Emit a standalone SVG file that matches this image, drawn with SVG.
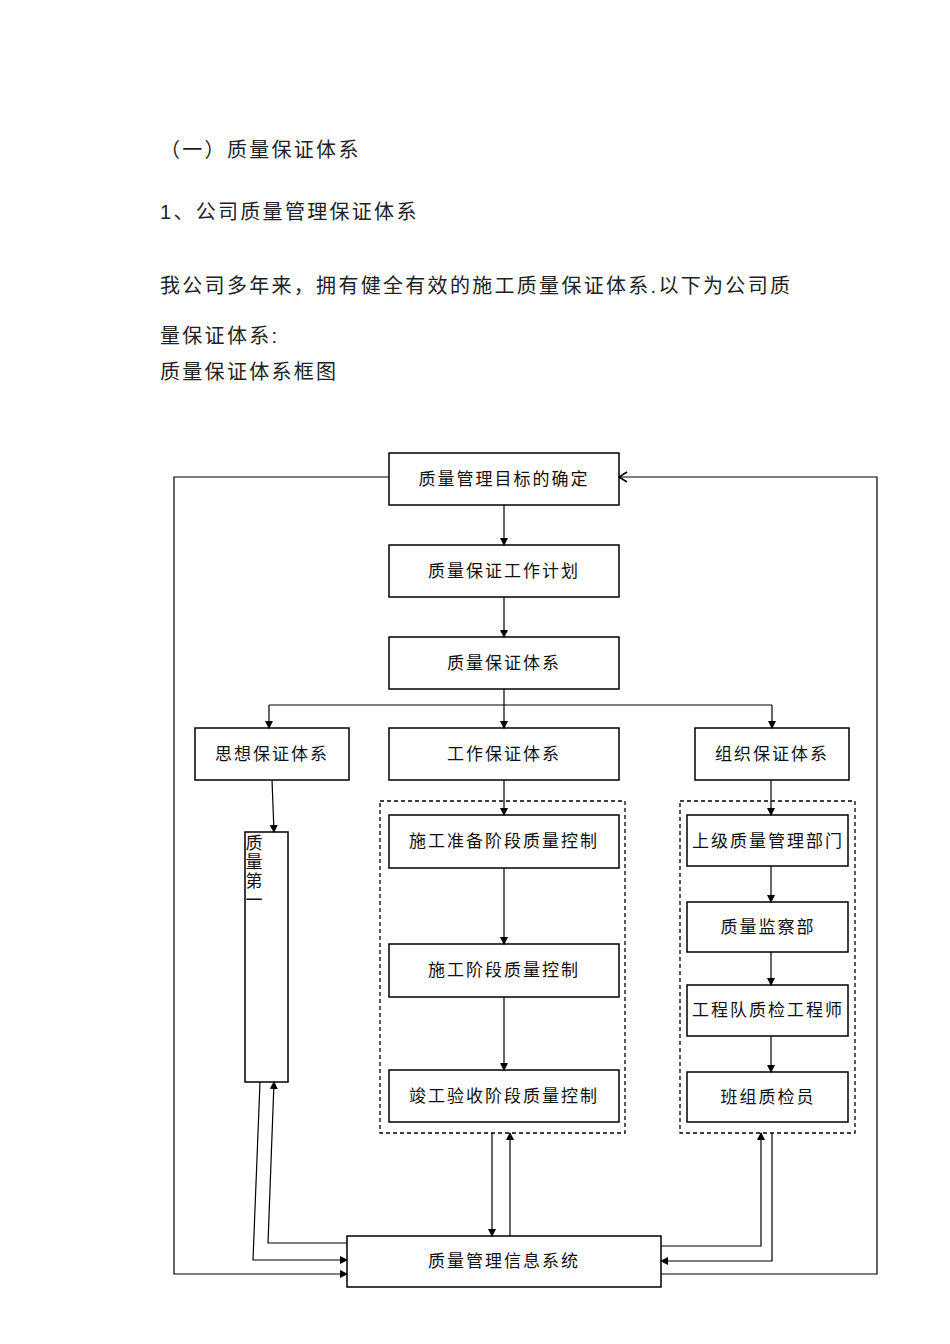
<svg xmlns="http://www.w3.org/2000/svg" width="950" height="1344" viewBox="0 0 950 1344">
<style>
.t{font-family:"Liberation Sans","Noto Sans CJK SC",sans-serif;font-size:20px;fill:#222;letter-spacing:2.3px}
.b{fill:#fff;stroke:#000;stroke-width:1.5}
.d{fill:none;stroke:#000;stroke-width:1.3;stroke-dasharray:4,3}
.l{font-family:"Liberation Sans","Noto Sans CJK SC",sans-serif;font-size:17px;fill:#111;text-anchor:middle;letter-spacing:2px}
.c{fill:none;stroke:#000;stroke-width:1.2}
</style>
<defs>
<marker id="a" markerWidth="8" markerHeight="8" refX="7" refY="4" orient="auto" markerUnits="userSpaceOnUse"><path d="M0,0L8,4L0,8z" fill="#000"/></marker>
<marker id="o" markerWidth="10" markerHeight="12" refX="9" refY="6" orient="auto" markerUnits="userSpaceOnUse"><path d="M1,1L9,6L1,11" fill="none" stroke="#000" stroke-width="1.5"/></marker>
</defs>
<rect width="950" height="1344" fill="#fff"/>
<text class="t" x="160" y="157">（一）质量保证体系</text>
<text class="t" x="160" y="219">1、公司质量管理保证体系</text>
<text class="t" x="160" y="293">我公司多年来，拥有健全有效的施工质量保证体系.以下为公司质</text>
<text class="t" x="160" y="343">量保证体系:</text>
<text class="t" x="160" y="379">质量保证体系框图</text>
<g id="dash"><rect class="d" x="380" y="801" width="245" height="332"/><rect class="d" x="680" y="801" width="175" height="332"/></g>
<g id="n1"><rect class="b" x="389" y="453" width="230" height="52"/><text class="l" x="504" y="485">质量管理目标的确定</text></g>
<g id="n2"><rect class="b" x="389" y="545" width="230" height="52"/><text class="l" x="504" y="577">质量保证工作计划</text></g>
<g id="n3"><rect class="b" x="389" y="637" width="230" height="52"/><text class="l" x="504" y="669">质量保证体系</text></g>
<g id="n4"><rect class="b" x="195" y="728" width="154" height="52"/><text class="l" x="272" y="760">思想保证体系</text></g>
<g id="n5"><rect class="b" x="389" y="728" width="230" height="52"/><text class="l" x="504" y="760">工作保证体系</text></g>
<g id="n6"><rect class="b" x="695" y="728" width="154" height="52"/><text class="l" x="772" y="760">组织保证体系</text></g>
<g id="n7"><rect class="b" x="245" y="832" width="43" height="250"/><text class="l" x="255" y="849" style="font-size:17px">质</text><text class="l" x="255" y="868" style="font-size:17px">量</text><text class="l" x="255" y="887" style="font-size:17px">第</text><text class="l" x="255" y="906" style="font-size:17px">一</text></g>
<g id="n8"><rect class="b" x="389" y="815" width="230" height="53"/><text class="l" x="504" y="847">施工准备阶段质量控制</text></g>
<g id="n9"><rect class="b" x="389" y="944" width="230" height="53"/><text class="l" x="504" y="976">施工阶段质量控制</text></g>
<g id="n10"><rect class="b" x="389" y="1070" width="230" height="52"/><text class="l" x="504" y="1102">竣工验收阶段质量控制</text></g>
<g id="n11"><rect class="b" x="687" y="815" width="161" height="51"/><text class="l" x="768" y="847">上级质量管理部门</text></g>
<g id="n12"><rect class="b" x="687" y="902" width="161" height="50"/><text class="l" x="768" y="933">质量监察部</text></g>
<g id="n13"><rect class="b" x="687" y="985" width="161" height="51"/><text class="l" x="768" y="1016">工程队质检工程师</text></g>
<g id="n14"><rect class="b" x="687" y="1072" width="161" height="50"/><text class="l" x="768" y="1103">班组质检员</text></g>
<g id="n15"><rect class="b" x="347" y="1236" width="314" height="51"/><text class="l" x="504" y="1267">质量管理信息系统</text></g>
<g id="conn" class="c">
<path class="c" d="M504,505V545" marker-end="url(#a)"/>
<path class="c" d="M504,597V637" marker-end="url(#a)"/>
<path class="c" d="M504,689V728" marker-end="url(#a)"/>
<path class="c" d="M269,705H772"/>
<path class="c" d="M269,705V728" marker-end="url(#a)"/>
<path class="c" d="M772,705V728" marker-end="url(#a)"/>
<path class="c" d="M272,780L274,832" marker-end="url(#a)"/>
<path class="c" d="M504,780V815" marker-end="url(#a)"/>
<path class="c" d="M504,868V944" marker-end="url(#a)"/>
<path class="c" d="M504,997V1070" marker-end="url(#a)"/>
<path class="c" d="M771,780V815" marker-end="url(#a)"/>
<path class="c" d="M771,866V902" marker-end="url(#a)"/>
<path class="c" d="M771,952V985" marker-end="url(#a)"/>
<path class="c" d="M771,1036V1072" marker-end="url(#a)"/>
<path class="c" d="M389,477H174V1274H347" marker-end="url(#a)"/>
<path class="c" d="M661,1274H877V477H619" marker-end="url(#o)"/>
<path class="c" d="M347,1243H268L274,1082" marker-end="url(#a)"/>
<path class="c" d="M260,1082L253,1260H347" marker-end="url(#a)"/>
<path class="c" d="M492,1133V1236" marker-end="url(#a)"/>
<path class="c" d="M510,1236V1133" marker-end="url(#a)"/>
<path class="c" d="M661,1246H761V1133" marker-end="url(#a)"/>
<path class="c" d="M772,1133V1261H661" marker-end="url(#a)"/>
</g>
</svg>
